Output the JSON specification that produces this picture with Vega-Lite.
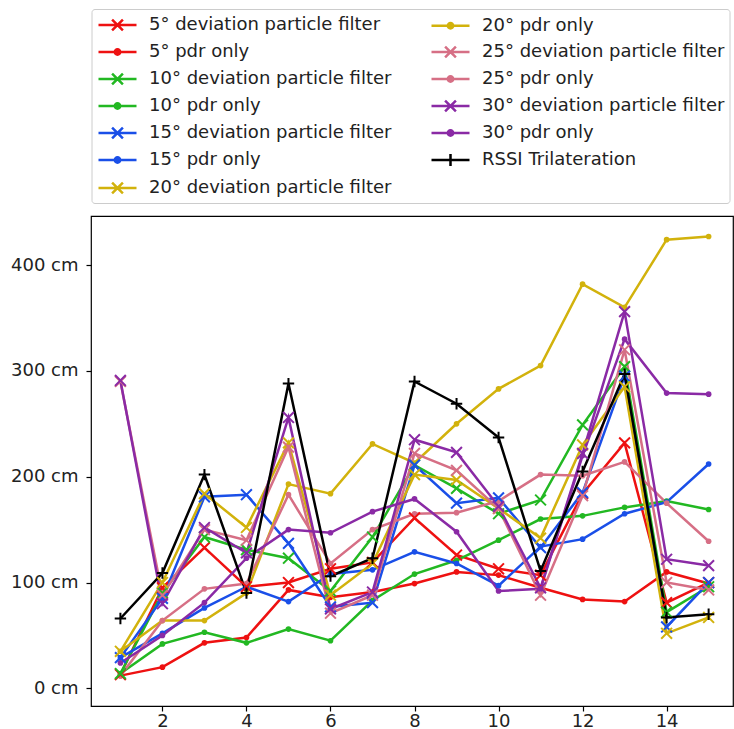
{
  "$schema": "https://vega.github.io/schema/vega-lite/v6.json",
  "autosize": {"type": "none"},
  "padding": {"left": 91, "top": 216, "right": 1, "bottom": 23},
  "width": 642,
  "height": 490,
  "background": "white",
  "config": {
    "view": {"stroke": "black", "strokeWidth": 1.2},
    "axis": {"grid": false, "domain": false, "labelFont": "DejaVu Sans", "labelFontSize": 18, "labelColor": "#222222", "tickColor": "black", "tickSize": 5, "tickWidth": 1.2, "title": null}
  },
  "data": {"values": [
    {"s":"5° deviation particle filter","x":1,"y":13},{"s":"5° deviation particle filter","x":2,"y":95},{"s":"5° deviation particle filter","x":3,"y":133},{"s":"5° deviation particle filter","x":4,"y":96},{"s":"5° deviation particle filter","x":5,"y":100},{"s":"5° deviation particle filter","x":6,"y":113},{"s":"5° deviation particle filter","x":7,"y":119},{"s":"5° deviation particle filter","x":8,"y":161},{"s":"5° deviation particle filter","x":9,"y":126},{"s":"5° deviation particle filter","x":10,"y":113},{"s":"5° deviation particle filter","x":11,"y":107},{"s":"5° deviation particle filter","x":12,"y":184},{"s":"5° deviation particle filter","x":13,"y":232},{"s":"5° deviation particle filter","x":14,"y":81},{"s":"5° deviation particle filter","x":15,"y":100},
    {"s":"5° pdr only","x":1,"y":12},{"s":"5° pdr only","x":2,"y":20},{"s":"5° pdr only","x":3,"y":43},{"s":"5° pdr only","x":4,"y":48},{"s":"5° pdr only","x":5,"y":93},{"s":"5° pdr only","x":6,"y":86},{"s":"5° pdr only","x":7,"y":91},{"s":"5° pdr only","x":8,"y":99},{"s":"5° pdr only","x":9,"y":110},{"s":"5° pdr only","x":10,"y":107},{"s":"5° pdr only","x":11,"y":95},{"s":"5° pdr only","x":12,"y":84},{"s":"5° pdr only","x":13,"y":82},{"s":"5° pdr only","x":14,"y":110},{"s":"5° pdr only","x":15,"y":99},
    {"s":"10° deviation particle filter","x":1,"y":14},{"s":"10° deviation particle filter","x":2,"y":90},{"s":"10° deviation particle filter","x":3,"y":143},{"s":"10° deviation particle filter","x":4,"y":131},{"s":"10° deviation particle filter","x":5,"y":123},{"s":"10° deviation particle filter","x":6,"y":92},{"s":"10° deviation particle filter","x":7,"y":143},{"s":"10° deviation particle filter","x":8,"y":211},{"s":"10° deviation particle filter","x":9,"y":189},{"s":"10° deviation particle filter","x":10,"y":165},{"s":"10° deviation particle filter","x":11,"y":178},{"s":"10° deviation particle filter","x":12,"y":249},{"s":"10° deviation particle filter","x":13,"y":304},{"s":"10° deviation particle filter","x":14,"y":72},{"s":"10° deviation particle filter","x":15,"y":96},
    {"s":"10° pdr only","x":1,"y":14},{"s":"10° pdr only","x":2,"y":42},{"s":"10° pdr only","x":3,"y":53},{"s":"10° pdr only","x":4,"y":43},{"s":"10° pdr only","x":5,"y":56},{"s":"10° pdr only","x":6,"y":45},{"s":"10° pdr only","x":7,"y":83},{"s":"10° pdr only","x":8,"y":108},{"s":"10° pdr only","x":9,"y":121},{"s":"10° pdr only","x":10,"y":140},{"s":"10° pdr only","x":11,"y":160},{"s":"10° pdr only","x":12,"y":163},{"s":"10° pdr only","x":13,"y":171},{"s":"10° pdr only","x":14,"y":177},{"s":"10° pdr only","x":15,"y":169},
    {"s":"15° deviation particle filter","x":1,"y":29},{"s":"15° deviation particle filter","x":2,"y":85},{"s":"15° deviation particle filter","x":3,"y":181},{"s":"15° deviation particle filter","x":4,"y":183},{"s":"15° deviation particle filter","x":5,"y":137},{"s":"15° deviation particle filter","x":6,"y":77},{"s":"15° deviation particle filter","x":7,"y":81},{"s":"15° deviation particle filter","x":8,"y":211},{"s":"15° deviation particle filter","x":9,"y":175},{"s":"15° deviation particle filter","x":10,"y":180},{"s":"15° deviation particle filter","x":11,"y":133},{"s":"15° deviation particle filter","x":12,"y":185},{"s":"15° deviation particle filter","x":13,"y":295},{"s":"15° deviation particle filter","x":14,"y":58},{"s":"15° deviation particle filter","x":15,"y":100},
    {"s":"15° pdr only","x":1,"y":29},{"s":"15° pdr only","x":2,"y":52},{"s":"15° pdr only","x":3,"y":76},{"s":"15° pdr only","x":4,"y":96},{"s":"15° pdr only","x":5,"y":82},{"s":"15° pdr only","x":6,"y":108},{"s":"15° pdr only","x":7,"y":112},{"s":"15° pdr only","x":8,"y":129},{"s":"15° pdr only","x":9,"y":118},{"s":"15° pdr only","x":10,"y":97},{"s":"15° pdr only","x":11,"y":134},{"s":"15° pdr only","x":12,"y":141},{"s":"15° pdr only","x":13,"y":165},{"s":"15° pdr only","x":14,"y":176},{"s":"15° pdr only","x":15,"y":212},
    {"s":"20° deviation particle filter","x":1,"y":35},{"s":"20° deviation particle filter","x":2,"y":100},{"s":"20° deviation particle filter","x":3,"y":184},{"s":"20° deviation particle filter","x":4,"y":152},{"s":"20° deviation particle filter","x":5,"y":232},{"s":"20° deviation particle filter","x":6,"y":88},{"s":"20° deviation particle filter","x":7,"y":118},{"s":"20° deviation particle filter","x":8,"y":202},{"s":"20° deviation particle filter","x":9,"y":197},{"s":"20° deviation particle filter","x":10,"y":170},{"s":"20° deviation particle filter","x":11,"y":142},{"s":"20° deviation particle filter","x":12,"y":230},{"s":"20° deviation particle filter","x":13,"y":285},{"s":"20° deviation particle filter","x":14,"y":52},{"s":"20° deviation particle filter","x":15,"y":67},
    {"s":"20° pdr only","x":1,"y":35},{"s":"20° pdr only","x":2,"y":64},{"s":"20° pdr only","x":3,"y":64},{"s":"20° pdr only","x":4,"y":90},{"s":"20° pdr only","x":5,"y":193},{"s":"20° pdr only","x":6,"y":184},{"s":"20° pdr only","x":7,"y":231},{"s":"20° pdr only","x":8,"y":213},{"s":"20° pdr only","x":9,"y":250},{"s":"20° pdr only","x":10,"y":283},{"s":"20° pdr only","x":11,"y":305},{"s":"20° pdr only","x":12,"y":382},{"s":"20° pdr only","x":13,"y":360},{"s":"20° pdr only","x":14,"y":424},{"s":"20° pdr only","x":15,"y":427},
    {"s":"25° deviation particle filter","x":1,"y":290},{"s":"25° deviation particle filter","x":2,"y":88},{"s":"25° deviation particle filter","x":3,"y":150},{"s":"25° deviation particle filter","x":4,"y":140},{"s":"25° deviation particle filter","x":5,"y":228},{"s":"25° deviation particle filter","x":6,"y":71},{"s":"25° deviation particle filter","x":7,"y":88},{"s":"25° deviation particle filter","x":8,"y":222},{"s":"25° deviation particle filter","x":9,"y":206},{"s":"25° deviation particle filter","x":10,"y":170},{"s":"25° deviation particle filter","x":11,"y":88},{"s":"25° deviation particle filter","x":12,"y":182},{"s":"25° deviation particle filter","x":13,"y":320},{"s":"25° deviation particle filter","x":14,"y":100},{"s":"25° deviation particle filter","x":15,"y":93},
    {"s":"25° pdr only","x":1,"y":12},{"s":"25° pdr only","x":2,"y":64},{"s":"25° pdr only","x":3,"y":94},{"s":"25° pdr only","x":4,"y":99},{"s":"25° pdr only","x":5,"y":183},{"s":"25° pdr only","x":6,"y":118},{"s":"25° pdr only","x":7,"y":150},{"s":"25° pdr only","x":8,"y":165},{"s":"25° pdr only","x":9,"y":166},{"s":"25° pdr only","x":10,"y":177},{"s":"25° pdr only","x":11,"y":202},{"s":"25° pdr only","x":12,"y":201},{"s":"25° pdr only","x":13,"y":214},{"s":"25° pdr only","x":14,"y":175},{"s":"25° pdr only","x":15,"y":139},
    {"s":"30° deviation particle filter","x":1,"y":291},{"s":"30° deviation particle filter","x":2,"y":80},{"s":"30° deviation particle filter","x":3,"y":152},{"s":"30° deviation particle filter","x":4,"y":128},{"s":"30° deviation particle filter","x":5,"y":256},{"s":"30° deviation particle filter","x":6,"y":75},{"s":"30° deviation particle filter","x":7,"y":91},{"s":"30° deviation particle filter","x":8,"y":235},{"s":"30° deviation particle filter","x":9,"y":223},{"s":"30° deviation particle filter","x":10,"y":172},{"s":"30° deviation particle filter","x":11,"y":95},{"s":"30° deviation particle filter","x":12,"y":222},{"s":"30° deviation particle filter","x":13,"y":356},{"s":"30° deviation particle filter","x":14,"y":122},{"s":"30° deviation particle filter","x":15,"y":116},
    {"s":"30° pdr only","x":1,"y":24},{"s":"30° pdr only","x":2,"y":50},{"s":"30° pdr only","x":3,"y":81},{"s":"30° pdr only","x":4,"y":123},{"s":"30° pdr only","x":5,"y":150},{"s":"30° pdr only","x":6,"y":147},{"s":"30° pdr only","x":7,"y":167},{"s":"30° pdr only","x":8,"y":179},{"s":"30° pdr only","x":9,"y":148},{"s":"30° pdr only","x":10,"y":92},{"s":"30° pdr only","x":11,"y":94},{"s":"30° pdr only","x":12,"y":220},{"s":"30° pdr only","x":13,"y":330},{"s":"30° pdr only","x":14,"y":279},{"s":"30° pdr only","x":15,"y":278},
    {"s":"RSSI Trilateration","x":1,"y":66},{"s":"RSSI Trilateration","x":2,"y":109},{"s":"RSSI Trilateration","x":3,"y":202},{"s":"RSSI Trilateration","x":4,"y":90},{"s":"RSSI Trilateration","x":5,"y":288},{"s":"RSSI Trilateration","x":6,"y":106},{"s":"RSSI Trilateration","x":7,"y":123},{"s":"RSSI Trilateration","x":8,"y":290},{"s":"RSSI Trilateration","x":9,"y":269},{"s":"RSSI Trilateration","x":10,"y":237},{"s":"RSSI Trilateration","x":11,"y":111},{"s":"RSSI Trilateration","x":12,"y":205},{"s":"RSSI Trilateration","x":13,"y":297},{"s":"RSSI Trilateration","x":14,"y":67},{"s":"RSSI Trilateration","x":15,"y":70}
  ]},
  "encoding": {
    "x": {"field": "x", "type": "quantitative", "scale": {"domain": [0.3, 15.58], "nice": false, "zero": false}, "axis": {"values": [2, 4, 6, 8, 10, 12, 14], "labelPadding": 1}},
    "y": {"field": "y", "type": "quantitative", "scale": {"domain": [-16.7, 446.4], "nice": false, "zero": false}, "axis": {"values": [0, 100, 200, 300, 400], "labelExpr": "datum.value + ' cm'", "labelPadding": 8}}
  },
  "layer": [
    {"mark": {"type": "line", "strokeWidth": 2.5},
     "encoding": {"stroke": {"field": "s", "type": "nominal", "legend": null,
       "scale": {"domain": ["5° deviation particle filter", "20° pdr only", "5° pdr only", "25° deviation particle filter", "10° deviation particle filter", "25° pdr only", "10° pdr only", "30° deviation particle filter", "15° deviation particle filter", "30° pdr only", "15° pdr only", "RSSI Trilateration", "20° deviation particle filter"],
                 "range": ["#ee1111", "#d2b20c", "#ee1111", "#d66f85", "#22b822", "#d66f85", "#22b822", "#8a2aa5", "#1a4fe8", "#8a2aa5", "#1a4fe8", "#000000", "#d2b20c"]}}}},
    {"transform": [{"filter": {"field": "s", "oneOf": ["5° pdr only", "10° pdr only", "15° pdr only", "20° pdr only", "25° pdr only", "30° pdr only"]}}],
     "mark": {"type": "point", "shape": "circle", "filled": true, "size": 32, "opacity": 1},
     "encoding": {"fill": {"field": "s", "type": "nominal", "legend": null,
       "scale": {"domain": ["5° deviation particle filter", "20° pdr only", "5° pdr only", "25° deviation particle filter", "10° deviation particle filter", "25° pdr only", "10° pdr only", "30° deviation particle filter", "15° deviation particle filter", "30° pdr only", "15° pdr only", "RSSI Trilateration", "20° deviation particle filter"],
                 "range": ["#ee1111", "#d2b20c", "#ee1111", "#d66f85", "#22b822", "#d66f85", "#22b822", "#8a2aa5", "#1a4fe8", "#8a2aa5", "#1a4fe8", "#000000", "#d2b20c"]}}}},
    {"transform": [{"filter": {"field": "s", "oneOf": ["5° deviation particle filter", "10° deviation particle filter", "15° deviation particle filter", "20° deviation particle filter", "25° deviation particle filter", "30° deviation particle filter"]}}],
     "mark": {"type": "point", "shape": "M-1,-1L1,1M-1,1L1,-1", "filled": false, "size": 117, "strokeWidth": 2, "opacity": 1},
     "encoding": {"stroke": {"field": "s", "type": "nominal", "legend": null}}},
    {"transform": [{"filter": {"field": "s", "equal": "RSSI Trilateration"}}],
     "mark": {"type": "point", "shape": "M-1,0L1,0M0,-1L0,1", "filled": false, "size": 130, "strokeWidth": 2, "opacity": 1},
     "encoding": {"stroke": {"field": "s", "type": "nominal", "legend": null}}},
    {
      "mark": {"type": "point", "filled": false, "strokeWidth": 2, "opacity": 0},
      "encoding": {
        "color": {
          "field": "s", "type": "nominal",
          "scale": {"domain": ["5° deviation particle filter", "5° pdr only", "10° deviation particle filter", "10° pdr only", "15° deviation particle filter", "15° pdr only", "20° deviation particle filter", "20° pdr only", "25° deviation particle filter", "25° pdr only", "30° deviation particle filter", "30° pdr only", "RSSI Trilateration"],
                    "range": ["#ee1111", "#ee1111", "#22b822", "#22b822", "#1a4fe8", "#1a4fe8", "#d2b20c", "#d2b20c", "#d66f85", "#d66f85", "#8a2aa5", "#8a2aa5", "#000000"]},
          "legend": {"orient": "none", "legendX": 0.5, "legendY": -207, "columns": 2, "title": null, "strokeColor": "#cccccc", "fillColor": "white", "cornerRadius": 3, "padding": 4.5, "symbolSize": 400, "symbolOffset": 10, "symbolStrokeWidth": 2.5, "symbolOpacity": 1, "labelFont": "DejaVu Sans", "labelFontSize": 18, "labelColor": "#222222", "labelOffset": 20, "labelLimit": 400, "rowPadding": 5, "columnPadding": 34}
        },
        "shape": {
          "field": "s", "type": "nominal",
          "scale": {
            "domain": ["5° deviation particle filter", "5° pdr only", "10° deviation particle filter", "10° pdr only", "15° deviation particle filter", "15° pdr only", "20° deviation particle filter", "20° pdr only", "25° deviation particle filter", "25° pdr only", "30° deviation particle filter", "30° pdr only", "RSSI Trilateration"],
            "range": [
              "M-1.9,0L1.9,0M-0.54,-0.54L0.54,0.54M-0.54,0.54L0.54,-0.54",
              "M-1.9,0L1.9,0M0.27,0A0.27,0.27 0 1,1 -0.27,0A0.27,0.27 0 1,1 0.27,0M0.15,0A0.15,0.15 0 1,1 -0.15,0A0.15,0.15 0 1,1 0.15,0M0.05,0A0.05,0.05 0 1,1 -0.05,0A0.05,0.05 0 1,1 0.05,0",
              "M-1.9,0L1.9,0M-0.54,-0.54L0.54,0.54M-0.54,0.54L0.54,-0.54",
              "M-1.9,0L1.9,0M0.27,0A0.27,0.27 0 1,1 -0.27,0A0.27,0.27 0 1,1 0.27,0M0.15,0A0.15,0.15 0 1,1 -0.15,0A0.15,0.15 0 1,1 0.15,0M0.05,0A0.05,0.05 0 1,1 -0.05,0A0.05,0.05 0 1,1 0.05,0",
              "M-1.9,0L1.9,0M-0.54,-0.54L0.54,0.54M-0.54,0.54L0.54,-0.54",
              "M-1.9,0L1.9,0M0.27,0A0.27,0.27 0 1,1 -0.27,0A0.27,0.27 0 1,1 0.27,0M0.15,0A0.15,0.15 0 1,1 -0.15,0A0.15,0.15 0 1,1 0.15,0M0.05,0A0.05,0.05 0 1,1 -0.05,0A0.05,0.05 0 1,1 0.05,0",
              "M-1.9,0L1.9,0M-0.54,-0.54L0.54,0.54M-0.54,0.54L0.54,-0.54",
              "M-1.9,0L1.9,0M0.27,0A0.27,0.27 0 1,1 -0.27,0A0.27,0.27 0 1,1 0.27,0M0.15,0A0.15,0.15 0 1,1 -0.15,0A0.15,0.15 0 1,1 0.15,0M0.05,0A0.05,0.05 0 1,1 -0.05,0A0.05,0.05 0 1,1 0.05,0",
              "M-1.9,0L1.9,0M-0.54,-0.54L0.54,0.54M-0.54,0.54L0.54,-0.54",
              "M-1.9,0L1.9,0M0.27,0A0.27,0.27 0 1,1 -0.27,0A0.27,0.27 0 1,1 0.27,0M0.15,0A0.15,0.15 0 1,1 -0.15,0A0.15,0.15 0 1,1 0.15,0M0.05,0A0.05,0.05 0 1,1 -0.05,0A0.05,0.05 0 1,1 0.05,0",
              "M-1.9,0L1.9,0M-0.54,-0.54L0.54,0.54M-0.54,0.54L0.54,-0.54",
              "M-1.9,0L1.9,0M0.27,0A0.27,0.27 0 1,1 -0.27,0A0.27,0.27 0 1,1 0.27,0M0.15,0A0.15,0.15 0 1,1 -0.15,0A0.15,0.15 0 1,1 0.15,0M0.05,0A0.05,0.05 0 1,1 -0.05,0A0.05,0.05 0 1,1 0.05,0",
              "M-1.9,0L1.9,0M0,-0.6L0,0.6"
            ]
          },
          "legend": {"orient": "none", "legendX": 0.5, "legendY": -207, "columns": 2, "title": null, "strokeColor": "#cccccc", "fillColor": "white", "cornerRadius": 3, "padding": 4.5, "symbolSize": 400, "symbolOffset": 10, "symbolStrokeWidth": 2.5, "symbolOpacity": 1, "labelFont": "DejaVu Sans", "labelFontSize": 18, "labelColor": "#222222", "labelOffset": 20, "labelLimit": 400, "rowPadding": 5, "columnPadding": 34}
        }
      }
    }
  ]
}
